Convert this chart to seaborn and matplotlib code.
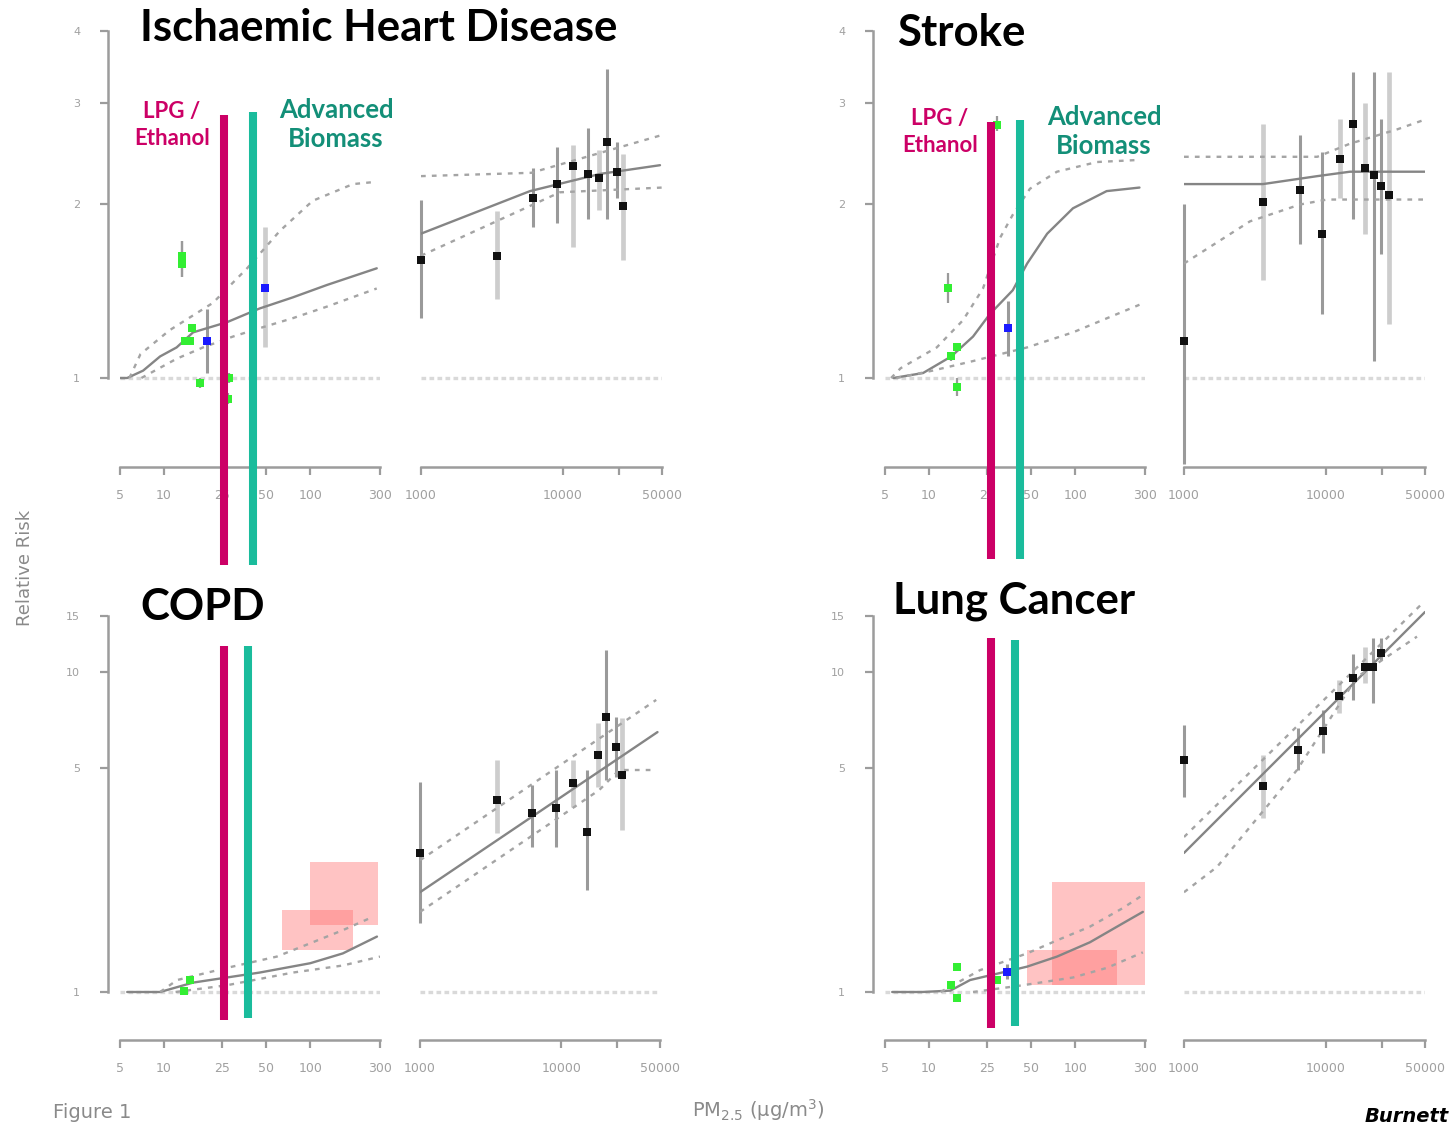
import numpy as np
import matplotlib
matplotlib.use("Agg")
import matplotlib.pyplot as plt
import seaborn as sns
from matplotlib.patches import Rectangle
from matplotlib.ticker import NullLocator

# ---------------- data ----------------
lo_ticks = [5, 10, 25, 50, 100, 300]
lo_labels = ["5", "10", "25", "50", "100", "300"]
hi_ticks = [1000, 10000, 25000, 50000]
hi_labels = ["1000", "10000", "", "50000"]
top_yticks = [1, 2, 3, 4]
bot_yticks = [1, 5, 10, 15]

titles = ["Ischaemic Heart Disease", "Stroke", "COPD", "Lung Cancer"]

# fuel-type markers (PM2.5, and RR extent of each drawn bar)
lpg_pm = [25.7, 26.5, 25.7, 26.5]
lpg_top = [2.86, 2.78, 12.1, 12.8]
lpg_bottom = [0.473, 0.486, 0.817, 0.772]
bio_pm = [40.6, 41.9, 37.6, 38.7]
bio_top = [2.89, 2.80, 12.1, 12.6]
bio_bottom = [0.473, 0.486, 0.83, 0.783]

# --- IHD ---
ihd_mid_x = [5, 5.6, 7.2, 9.4, 12.2, 15.8, 27, 45, 76, 130, 285]
ihd_mid_y = [1.0, 1.0, 1.03, 1.09, 1.13, 1.20, 1.25, 1.32, 1.38, 1.45, 1.55]
ihd_up_x = [5.8, 6.9, 10.9, 21.6, 37, 62, 104, 196, 285]
ihd_up_y = [1.0, 1.10, 1.21, 1.35, 1.55, 1.80, 2.03, 2.17, 2.19]
ihd_dn_x = [7, 12.2, 18.5, 29.6, 45, 76, 130, 285]
ihd_dn_y = [1.0, 1.08, 1.13, 1.18, 1.22, 1.27, 1.33, 1.43]
ihd_smk_mid_x = [1000, 5870, 18300, 48400]
ihd_smk_mid_y = [1.78, 2.11, 2.26, 2.34]
ihd_smk_up_x = [1000, 6000, 50000]
ihd_smk_up_y = [2.24, 2.27, 2.64]
ihd_smk_dn_x = [1000, 9540, 50000]
ihd_smk_dn_y = [1.63, 2.10, 2.14]
ihd_smk_x = [1000, 3430, 6160, 9100, 11800, 15000, 18000, 20500, 24000, 26500]
ihd_smk_rr = [1.60, 1.63, 2.05, 2.17, 2.33, 2.26, 2.22, 2.57, 2.28, 1.99]
ihd_smk_lo = [1.27, 1.37, 1.83, 1.86, 1.69, 1.89, 1.96, 1.89, 2.05, 1.60]
ihd_smk_hi = [2.04, 1.95, 2.31, 2.52, 2.54, 2.72, 2.49, 3.43, 2.57, 2.45]
ihd_smk_light = [0, 1, 0, 0, 1, 0, 1, 0, 0, 1]
ihd_aap_x = [13.3, 13.3, 14.0, 15.0, 15.5, 17.6, 28, 27.5]
ihd_aap_rr = [1.63, 1.58, 1.16, 1.16, 1.22, 0.98, 1.0, 0.92]
ihd_aap_lo = [1.50, 1.50, 1.14, 1.14, 1.20, 0.96, 0.98, 0.90]
ihd_aap_hi = [1.73, 1.73, 1.18, 1.18, 1.24, 1.00, 1.02, 0.94]
ihd_shs_x = [19.6, 49]
ihd_shs_rr = [1.16, 1.43]
ihd_shs_lo = [1.02, 1.13]
ihd_shs_hi = [1.32, 1.83]
ihd_shs_light = [0, 1]

# --- Stroke ---
stk_mid_x = [5.7, 9.1, 14.2, 20, 26, 37.4, 46.9, 64.3, 96.5, 164, 275]
stk_mid_y = [1.0, 1.02, 1.09, 1.18, 1.29, 1.42, 1.58, 1.78, 1.97, 2.11, 2.14]
stk_up_x = [5.5, 6.4, 11.3, 17.1, 23.4, 30.6, 37.4, 49, 75, 141, 275]
stk_up_y = [1.0, 1.04, 1.13, 1.26, 1.43, 1.75, 1.92, 2.13, 2.28, 2.37, 2.39]
stk_dn_x = [6, 10.6, 20, 46.9, 96.5, 275]
stk_dn_y = [1.0, 1.03, 1.07, 1.13, 1.20, 1.34]
stk_smk_mid_x = [1000, 3600, 8700, 14800, 50000]
stk_smk_mid_y = [2.17, 2.17, 2.24, 2.28, 2.28]
stk_smk_up_x = [1000, 8700, 14800, 31800, 48400]
stk_smk_up_y = [2.42, 2.42, 2.55, 2.70, 2.80]
stk_smk_dn_x = [1000, 2920, 6580, 10200, 50000]
stk_smk_dn_y = [1.58, 1.87, 2.00, 2.04, 2.04]
stk_smk_x = [1000, 3610, 6570, 9400, 12600, 15500, 18900, 21800, 24500, 27900]
stk_smk_rr = [1.16, 2.02, 2.12, 1.78, 2.40, 2.76, 2.31, 2.25, 2.15, 2.08]
stk_smk_lo = [0.71, 1.48, 1.71, 1.29, 2.05, 1.89, 1.78, 1.07, 1.64, 1.24]
stk_smk_hi = [2.00, 2.76, 2.64, 2.47, 2.81, 3.39, 3.00, 3.39, 2.81, 3.39]
stk_smk_light = [0, 1, 0, 0, 1, 0, 1, 0, 0, 1]
stk_aap_x = [13.5, 15.5, 14.2, 15.5, 29]
stk_aap_rr = [1.43, 1.13, 1.09, 0.965, 2.75]
stk_aap_lo = [1.35, 1.11, 1.07, 0.93, 2.68]
stk_aap_hi = [1.52, 1.15, 1.11, 1.00, 2.85]
stk_shs_x = [34.6]
stk_shs_rr = [1.22]
stk_shs_lo = [1.09]
stk_shs_hi = [1.36]
stk_shs_light = [0]

# --- COPD ---
copd_mid_x = [5.6, 9.4, 15.8, 45, 100, 167, 286]
copd_mid_y = [1.0, 1.0, 1.07, 1.15, 1.23, 1.32, 1.49]
copd_up_x = [9.4, 12.3, 27, 59, 100, 167, 270]
copd_up_y = [1.0, 1.09, 1.19, 1.29, 1.42, 1.56, 1.72]
copd_dn_x = [12, 27, 76, 167, 300]
copd_dn_y = [1.0, 1.05, 1.15, 1.21, 1.29]
copd_smk_mid_x = [1000, 48000]
copd_smk_mid_y = [2.05, 6.49]
copd_smk_up_x = [1000, 47000]
copd_smk_up_y = [2.58, 8.18]
copd_smk_dn_x = [1000, 18600, 25700, 47000]
copd_smk_dn_y = [1.78, 4.28, 4.94, 4.94]
copd_smk_x = [1000, 3490, 6250, 9250, 12200, 15300, 18300, 20800, 24500, 27000]
copd_smk_rr = [2.72, 3.98, 3.62, 3.76, 4.50, 3.16, 5.50, 7.23, 5.83, 4.77]
copd_smk_lo = [1.64, 3.14, 2.84, 2.84, 3.78, 2.08, 4.37, 4.60, 4.70, 3.21]
copd_smk_hi = [4.53, 5.31, 4.44, 4.94, 5.31, 4.94, 6.92, 11.7, 7.23, 7.18]
copd_smk_light = [0, 1, 0, 0, 1, 0, 1, 0, 0, 1]
copd_aap_x = [15.0, 13.7]
copd_aap_rr = [1.09, 1.01]
copd_aap_lo = [1.07, 0.99]
copd_aap_hi = [1.11, 1.03]
copd_box_x0 = [64, 100]
copd_box_x1 = [196, 291]
copd_box_y0 = [1.35, 1.62]
copd_box_y1 = [1.80, 2.55]

# --- Lung cancer ---
lc_mid_x = [5.6, 9, 14, 19.1, 46.8, 75, 126, 212, 290]
lc_mid_y = [1.0, 1.0, 1.01, 1.09, 1.20, 1.29, 1.43, 1.64, 1.78]
lc_up_x = [12, 22.3, 46.8, 75, 126, 212, 290]
lc_up_y = [1.0, 1.17, 1.32, 1.45, 1.60, 1.83, 2.01]
lc_dn_x = [20, 44, 96.5, 165, 290]
lc_dn_y = [1.0, 1.05, 1.11, 1.19, 1.33]
lc_smk_mid_x = [1000, 50000]
lc_smk_mid_y = [2.72, 15.4]
lc_smk_up_x = [1000, 48000]
lc_smk_up_y = [3.05, 16.4]
lc_smk_dn_x = [1000, 1710, 6260, 16600, 43900]
lc_smk_dn_y = [2.05, 2.46, 4.94, 9.65, 12.9]
lc_smk_x = [1000, 3610, 6360, 9560, 12400, 15500, 18900, 21500, 24400]
lc_smk_rr = [5.31, 4.40, 5.70, 6.54, 8.41, 9.58, 10.4, 10.4, 11.5]
lc_smk_lo = [4.07, 3.50, 4.94, 5.60, 7.44, 8.17, 9.22, 8.00, 10.9]
lc_smk_hi = [6.83, 5.50, 6.70, 7.60, 9.45, 11.4, 12.0, 12.8, 12.8]
lc_smk_light = [0, 1, 0, 0, 1, 0, 1, 0, 0]
lc_aap_x = [15.5, 14.1, 15.5, 29]
lc_aap_rr = [1.20, 1.05, 0.96, 1.09]
lc_aap_lo = [1.18, 1.03, 0.94, 1.07]
lc_aap_hi = [1.22, 1.07, 0.98, 1.11]
lc_shs_x = [34]
lc_shs_rr = [1.155]
lc_shs_lo = [1.10]
lc_shs_hi = [1.22]
lc_shs_light = [0]
lc_box_x0 = [69.5, 46.8]
lc_box_x1 = [300, 193]
lc_box_y0 = [1.05, 1.05]
lc_box_y1 = [2.21, 1.35]

# ---------------- style ----------------
sns.set_theme(style="ticks")
plt.rcParams['font.family'] = ['DejaVu Sans']

W, H = 1452, 1126
fig = plt.figure(figsize=(W / 100, H / 100), dpi=100)
fig.patch.set_facecolor('white')

AXIS = '#9c9c9c'
TICKTXT = '#a0a0a0'
DARKBAR = '#9a9a9a'
LIGHTBAR = '#cdcdcd'
CURVE = '#858585'
DASHC = '#a4a4a4'
MAG = '#cc0066'
TEAL = '#1abc9c'
TEAL_TXT = '#138f78'


def px_rect(x0, x1, y0, y1):
    return [x0 / W, 1 - y1 / H, (x1 - x0) / W, (y1 - y0) / H]


def log_val(p, p_a, v_a, p_b, v_b):
    t = (p - p_a) / (p_b - p_a)
    return float(np.exp(np.log(v_a) + t * (np.log(v_b) - np.log(v_a))))


# panel layout in pixels: x of 5/300 ticks, x of 1000/50000 ticks, y refs
layout = [
    dict(lo=(120, 380), hi=(421, 662), yref=(378, 1, 31, 4), top=22, bot=467,
         yt=top_yticks, title=(140, 28)),
    dict(lo=(885, 1145), hi=(1184, 1425), yref=(378, 1, 31, 4), top=22, bot=467,
         yt=top_yticks, title=(897, 33)),
    dict(lo=(120, 380), hi=(420, 660), yref=(992, 1, 672, 10), top=590, bot=1040,
         yt=bot_yticks, title=(140, 607)),
    dict(lo=(885, 1145), hi=(1184, 1425), yref=(992, 1, 672, 10), top=590, bot=1040,
         yt=bot_yticks, title=(893, 601)),
]

panels = [
    dict(curves=[(ihd_mid_x, ihd_mid_y), (ihd_up_x, ihd_up_y), (ihd_dn_x, ihd_dn_y)],
         scurves=[(ihd_smk_mid_x, ihd_smk_mid_y), (ihd_smk_up_x, ihd_smk_up_y),
                  (ihd_smk_dn_x, ihd_smk_dn_y)],
         smk=(ihd_smk_x, ihd_smk_rr, ihd_smk_lo, ihd_smk_hi, ihd_smk_light),
         aap=(ihd_aap_x, ihd_aap_rr, ihd_aap_lo, ihd_aap_hi),
         shs=(ihd_shs_x, ihd_shs_rr, ihd_shs_lo, ihd_shs_hi, ihd_shs_light),
         boxes=None),
    dict(curves=[(stk_mid_x, stk_mid_y), (stk_up_x, stk_up_y), (stk_dn_x, stk_dn_y)],
         scurves=[(stk_smk_mid_x, stk_smk_mid_y), (stk_smk_up_x, stk_smk_up_y),
                  (stk_smk_dn_x, stk_smk_dn_y)],
         smk=(stk_smk_x, stk_smk_rr, stk_smk_lo, stk_smk_hi, stk_smk_light),
         aap=(stk_aap_x, stk_aap_rr, stk_aap_lo, stk_aap_hi),
         shs=(stk_shs_x, stk_shs_rr, stk_shs_lo, stk_shs_hi, stk_shs_light),
         boxes=None),
    dict(curves=[(copd_mid_x, copd_mid_y), (copd_up_x, copd_up_y), (copd_dn_x, copd_dn_y)],
         scurves=[(copd_smk_mid_x, copd_smk_mid_y), (copd_smk_up_x, copd_smk_up_y),
                  (copd_smk_dn_x, copd_smk_dn_y)],
         smk=(copd_smk_x, copd_smk_rr, copd_smk_lo, copd_smk_hi, copd_smk_light),
         aap=(copd_aap_x, copd_aap_rr, copd_aap_lo, copd_aap_hi),
         shs=None,
         boxes=(copd_box_x0, copd_box_x1, copd_box_y0, copd_box_y1)),
    dict(curves=[(lc_mid_x, lc_mid_y), (lc_up_x, lc_up_y), (lc_dn_x, lc_dn_y)],
         scurves=[(lc_smk_mid_x, lc_smk_mid_y), (lc_smk_up_x, lc_smk_up_y),
                  (lc_smk_dn_x, lc_smk_dn_y)],
         smk=(lc_smk_x, lc_smk_rr, lc_smk_lo, lc_smk_hi, lc_smk_light),
         aap=(lc_aap_x, lc_aap_rr, lc_aap_lo, lc_aap_hi),
         shs=(lc_shs_x, lc_shs_rr, lc_shs_lo, lc_shs_hi, lc_shs_light),
         boxes=(lc_box_x0, lc_box_x1, lc_box_y0, lc_box_y1)),
]


def make_ax(x0, x1, top, bot, xlim, ylim, ticks, labels):
    ax = fig.add_axes(px_rect(x0, x1, top, bot))
    ax.set_xscale('log')
    ax.set_yscale('log')
    ax.set_xticks(ticks, labels)
    ax.xaxis.set_minor_locator(NullLocator())
    ax.yaxis.set_minor_locator(NullLocator())
    ax.set_xlim(xlim)
    ax.set_ylim(ylim)
    ax.patch.set_alpha(0)
    for s in ['top', 'right']:
        ax.spines[s].set_visible(False)
    ax.spines['bottom'].set_bounds(*xlim)
    ax.spines['bottom'].set_color(AXIS)
    ax.spines['bottom'].set_linewidth(1.8)
    ax.tick_params(axis='x', length=6, width=1.6, color=AXIS, labelcolor=TICKTXT,
                   labelsize=9, pad=10)
    return ax


def curve(ax, xs, ys, solid):
    if solid:
        sns.lineplot(x=xs, y=ys, ax=ax, color=CURVE, linewidth=1.7, sort=False,
                     estimator=None, zorder=3)
    else:
        sns.lineplot(x=xs, y=ys, ax=ax, color=DASHC, linewidth=1.7, sort=False,
                     estimator=None, linestyle=(0, (2.0, 2.6)), zorder=3)


def bars(ax, xs, lo, hi, light):
    cols = [LIGHTBAR if f else DARKBAR for f in light]
    lws = [3.4 if f else 2.2 for f in light]
    ax.vlines(xs, lo, hi, colors=cols, linewidths=lws, zorder=2, clip_on=False)


for i, (L, P) in enumerate(zip(layout, panels)):
    p1, v1, p2, v2 = L['yref']
    ylim = (log_val(L['bot'], p1, v1, p2, v2), log_val(L['top'], p1, v1, p2, v2))
    ax_lo = make_ax(L['lo'][0], L['lo'][1], L['top'], L['bot'], (5, 300), ylim,
                    lo_ticks, lo_labels)
    ax_hi = make_ax(L['hi'][0], L['hi'][1], L['top'], L['bot'], (1000, 50000), ylim,
                    hi_ticks, hi_labels)

    # y axis on the low-exposure side only
    yt = L['yt']
    ax_lo.set_yticks(yt, [str(v) for v in yt])
    ax_lo.yaxis.set_minor_locator(NullLocator())
    ax_lo.set_ylim(ylim)
    ax_lo.spines['left'].set_position(('outward', 8.6))
    ax_lo.spines['left'].set_bounds(yt[0], yt[-1])
    ax_lo.spines['left'].set_color(AXIS)
    ax_lo.spines['left'].set_linewidth(1.8)
    ax_lo.tick_params(axis='y', length=6, width=1.6, color=AXIS, labelcolor=TICKTXT,
                      labelsize=8, pad=14)
    ax_hi.spines['left'].set_visible(False)
    ax_hi.tick_params(axis='y', left=False, labelleft=False)

    for ax in (ax_lo, ax_hi):
        ax.axhline(1, color='#d9d9d9', lw=2.4, ls=(0, (1.4, 1.0)), zorder=1)

    if P['boxes'] is not None:
        bx0, bx1, by0, by1 = P['boxes']
        for a, b, c, d in zip(bx0, bx1, by0, by1):
            ax_lo.add_patch(Rectangle((a, c), b - a, d - c, facecolor='#ff7070',
                                      alpha=0.42, edgecolor='none', zorder=1.5))

    for k, (xs, ys) in enumerate(P['curves']):
        curve(ax_lo, xs, ys, k == 0)
    for k, (xs, ys) in enumerate(P['scurves']):
        curve(ax_hi, xs, ys, k == 0)

    sx, srr, slo, shi, slight = P['smk']
    bars(ax_hi, sx, slo, shi, slight)
    sns.scatterplot(x=sx, y=srr, ax=ax_hi, marker='s', s=32, color='#111111',
                    linewidth=0, zorder=4, clip_on=False)

    ax_, arr, alo, ahi = P['aap']
    ax_lo.vlines(ax_, alo, ahi, colors=DARKBAR, linewidths=1.6, zorder=2)
    sns.scatterplot(x=ax_, y=arr, ax=ax_lo, marker='s', s=30, color='#33ee33',
                    linewidth=0, zorder=4)

    if P['shs'] is not None:
        bx, brr, blo, bhi, blight = P['shs']
        bars(ax_lo, bx, blo, bhi, blight)
        sns.scatterplot(x=bx, y=brr, ax=ax_lo, marker='s', s=30, color='#1a1aff',
                        linewidth=0, zorder=4)

    # fuel-type bars drawn over the panel
    ax_lo.plot([lpg_pm[i], lpg_pm[i]], [lpg_bottom[i], lpg_top[i]], color=MAG,
               lw=5.8, solid_capstyle='butt', clip_on=False, zorder=6)
    ax_lo.plot([bio_pm[i], bio_pm[i]], [bio_bottom[i], bio_top[i]], color=TEAL,
               lw=5.8, solid_capstyle='butt', clip_on=False, zorder=6)

    if i < 2:
        ymid = log_val(125 if i == 0 else 132, p1, v1, p2, v2)
        lx = log_val(172 if i == 0 else 940, L['lo'][0], 5, L['lo'][1], 300)
        bx_ = log_val(336 if i == 0 else 1104, L['lo'][0], 5, L['lo'][1], 300)
        ax_lo.text(lx, ymid, "LPG /\nEthanol", color=MAG, fontsize=16,
                   fontweight='bold', family='Lato', ha='center', va='center',
                   linespacing=1.3, zorder=7)
        ax_lo.text(bx_, ymid, "Advanced\nBiomass", color=TEAL_TXT, fontsize=18.5,
                   fontweight='bold', family='Lato', ha='center', va='center',
                   linespacing=1.25, zorder=7)

    tx, ty = L['title']
    fig.text(tx / W, 1 - ty / H, titles[i], fontsize=31.5, fontweight='bold',
             family='Lato', color='black', ha='left', va='center', zorder=8)

fig.text(25 / W, 1 - 568 / H, "Relative Risk", rotation=90, fontsize=13,
         color='#8a8a8a', ha='center', va='center')
fig.text(53 / W, 1 - 1112 / H, "Figure 1", fontsize=14, color='#8a8a8a',
         ha='left', va='center')
fig.text(692 / W, 1 - 1110 / H, r"PM$_{2.5}$ (µg/m$^3$)", fontsize=14,
         color='#8a8a8a', ha='left', va='center')
fig.text(1449 / W, 1 - 1117 / H, "Burnett", fontsize=14,
         fontweight='bold', style='italic', color='black', ha='right', va='center')

fig.savefig("out.png", dpi=100)
